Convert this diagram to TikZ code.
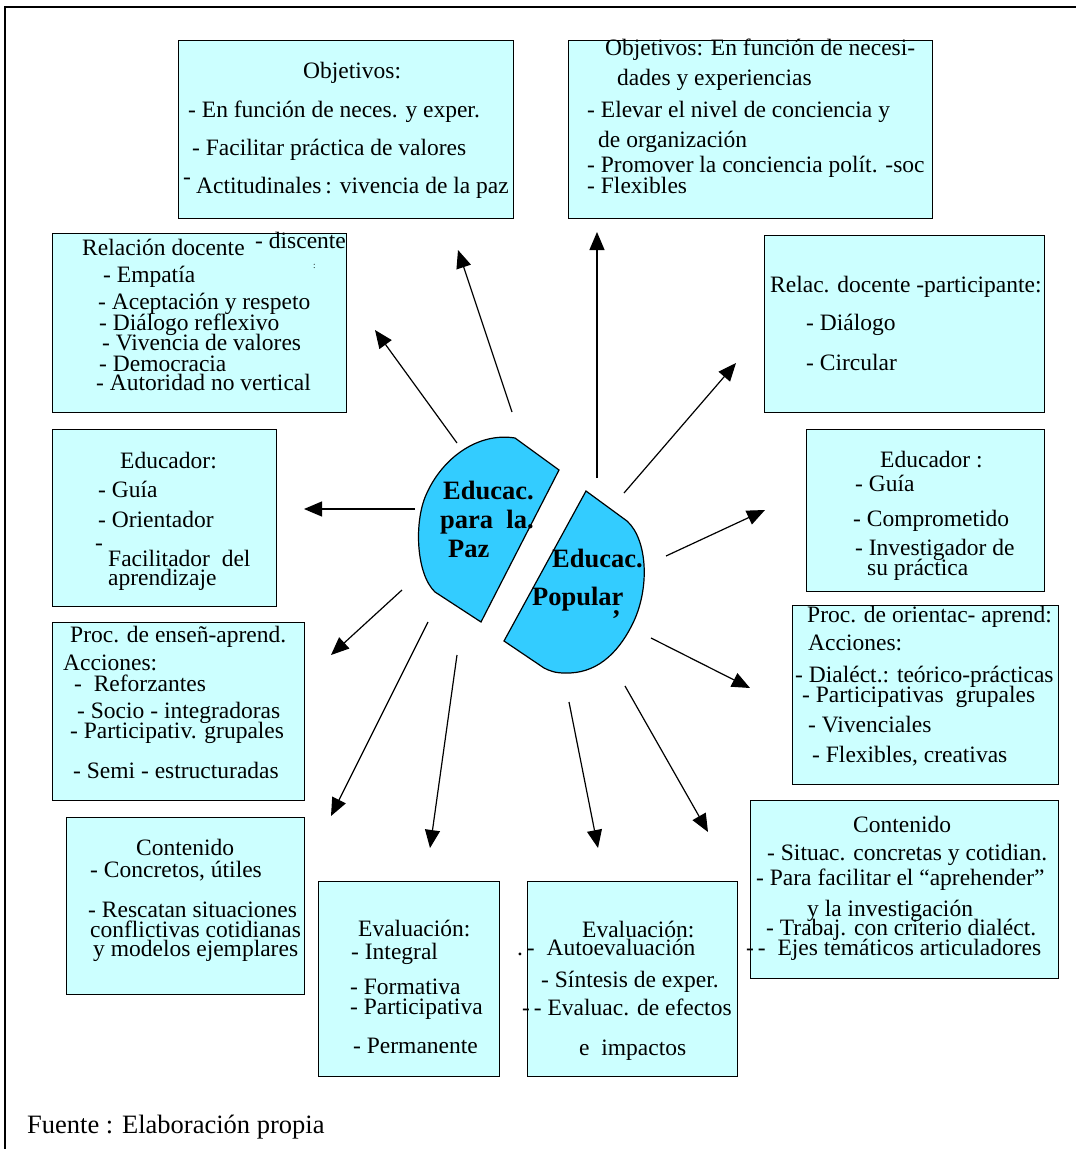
\documentclass[tikz,border=0pt]{standalone}
\usepackage{fontspec}
\setmainfont{Liberation Serif}
\usetikzlibrary{arrows.meta}
\definecolor{boxfill}{HTML}{CCFFFF}
\definecolor{blobfill}{HTML}{33CCFF}
\begin{document}
\begin{tikzpicture}[x=1pt,y=-1pt,
  box/.style={draw=black, line width=1.2pt, fill=boxfill, inner sep=0pt, anchor=north west},
  tx/.style={anchor=base west, inner sep=0pt, font=\fontsize{23.5}{24}\selectfont},
  bt/.style={anchor=base west, inner sep=0pt, font=\fontsize{26.5}{27}\selectfont\bfseries},
  arr/.style={line width=1.2pt, -{Triangle[length=18pt,width=15pt]}},
  blob/.style={draw=black, line width=1.2pt, fill=blobfill}]
\useasboundingbox (0,0) rectangle (1076,1149);
% frame
\coordinate (fTL) at (5,7);
\coordinate (fTR) at (1076,7);
\coordinate (fBL) at (5,1149);
\draw[line width=1.5pt] (fBL) -- (fTL) -- (fTR);

% boxes
\node[box, minimum width=335pt, minimum height=178pt] (objL) at (178,40) {};
\node[box, minimum width=364pt, minimum height=178pt] (objR) at (568,40) {};
\node[box, minimum width=294pt, minimum height=179pt] (relL) at (52,233) {};
\node[box, minimum width=280pt, minimum height=177pt] (relR) at (764,235) {};
\node[box, minimum width=224pt, minimum height=177pt] (eduL) at (52,429) {};
\node[box, minimum width=238pt, minimum height=162pt] (eduR) at (806,429) {};
\node[box, minimum width=252pt, minimum height=178pt] (procL) at (52,622) {};
\node[box, minimum width=266pt, minimum height=179pt] (procR) at (792,605) {};
\node[box, minimum width=238pt, minimum height=177pt] (contL) at (66,817) {};
\node[box, minimum width=181pt, minimum height=195pt] (evalL) at (318,881) {};
\node[box, minimum width=210pt, minimum height=195pt] (evalR) at (527,881) {};
\node[box, minimum width=308pt, minimum height=178pt] (contR) at (750,800) {};

% Objetivos left
\node[tx] (oL1) at (303,78) {Objetivos:};
\node[tx] (oL2) at (188,117) {- En función de neces. y exper.};
\node[tx] (oL3) at (192,155) {- Facilitar práctica de valores};
\node[tx] (oL4) at (183,184) {-};
\node[tx] (oL5) at (196,193) {Actitudinales\,: vivencia de la paz};

% Objetivos right
\node[tx] (oR1) at (605,55) {Objetivos: En función de necesi-};
\node[tx] (oR2) at (617,85) {dades y experiencias};
\node[tx] (oR3) at (587,117) {- Elevar el nivel de conciencia y};
\node[tx] (oR4) at (598,147) {de organización};
\node[tx] (oR5) at (587,172) {- Promover la conciencia polít. -soc};
\node[tx] (oR6) at (587,193) {- Flexibles};

% Relacion left
\node[tx] (rL1) at (82,255) {Relación docente};
\node[tx] (rL2) at (255,248) {- discente};
\node[anchor=base west, inner sep=0pt, font=\fontsize{9}{9}\selectfont] (rL3) at (313,268) {:};
\node[tx] (rL4) at (103,282) {- Empatía};
\node[tx] (rL5) at (98,309) {- Aceptación y respeto};
\node[tx] (rL6) at (99,330) {- Diálogo reflexivo};
\node[tx] (rL7) at (102,350) {- Vivencia de valores};
\node[tx] (rL8) at (99,371) {- Democracia};
\node[tx] (rL9) at (96,390) {- Autoridad no vertical};

% Relacion right
\node[tx] (rR1) at (770,292) {Relac. docente -participante:};
\node[tx] (rR2) at (806,330) {- Diálogo};
\node[tx] (rR3) at (806,370) {- Circular};

% Educador left
\node[tx] (eL1) at (120,468) {Educador:};
\node[tx] (eL2) at (98,497) {- Guía};
\node[tx] (eL3) at (98,527) {- Orientador};
\node[tx] (eL4) at (95,550) {-};
\node[tx] (eL5) at (108,566) {Facilitador\ \ del};
\node[tx] (eL6) at (108,585) {aprendizaje};

% Educador right
\node[tx] (eR1) at (880,467) {Educador :};
\node[tx] (eR2) at (855,491) {- Guía};
\node[tx] (eR3) at (853,526) {- Comprometido};
\node[tx] (eR4) at (855,555) {- Investigador de};
\node[tx] (eR5) at (867,575) {su práctica};

% Proc left
\node[tx] (pL1) at (70,642) {Proc. de enseñ-aprend.};
\node[tx] (pL2) at (63,670) {Acciones:};
\node[tx] (pL3) at (74,691) {-\ \ Reforzantes};
\node[tx] (pL4) at (77,718) {- Socio - integradoras};
\node[tx] (pL5) at (70,738) {- Participativ. grupales};
\node[tx] (pL6) at (73,778) {- Semi - estructuradas};

% Proc right
\node[tx] (pR1) at (807,622) {Proc. de orientac- aprend:};
\node[tx] (pR2) at (808,650) {Acciones:};
\node[tx] (pR3) at (795,682) {- Dialéct.: teórico-prácticas};
\node[tx] (pR4) at (802,702) {- Participativas\ \ grupales};
\node[tx] (pR5) at (808,732) {- Vivenciales};
\node[tx] (pR6) at (812,762) {- Flexibles, creativas};

% Contenido left
\node[tx] (cL1) at (136,855) {Contenido};
\node[tx] (cL2) at (90,877) {- Concretos, útiles};
\node[tx] (cL3) at (88,917) {- Rescatan situaciones};
\node[tx] (cL4) at (90,937) {conflictivas cotidianas};
\node[tx] (cL5) at (93,956) {y modelos ejemplares};

% Evaluacion left
\node[tx] (vL1) at (358,936) {Evaluación:};
\node[tx] (vL2) at (351,959) {- Integral};
\node[tx] (vL3) at (350,994) {- Formativa};
\node[tx] (vL4) at (350,1014) {- Participativa};
\node[tx] (vL5) at (353,1053) {- Permanente};

% Evaluacion right
\node[tx] (vR1) at (582,937) {Evaluación:};
\node[tx] (vR2) at (517,955) {.\,-\ \ Autoevaluación};
\node[tx] (vR3) at (541,987) {- Síntesis de exper.};
\node[tx] (vR4) at (522,1015) {-\,- Evaluac. de efectos};
\node[tx] (vR5) at (579,1055) {e\ \ impactos};

% Contenido right
\node[tx] (cR1) at (853,832) {Contenido};
\node[tx] (cR2) at (767,860) {- Situac. concretas y cotidian.};
\node[tx] (cR3) at (756,885) {- Para facilitar el “aprehender”};
\node[tx] (cR4) at (807,916) {y la investigación};
\node[tx] (cR5) at (766,935) {- Trabaj. con criterio dialéct.};
\node[tx] (cR6) at (746,955) {-\,-\ \ Ejes temáticos articuladores};

% central blobs
\path[blob] (559,470) -- (481,622) -- (435,592)
  .. controls (416,574) and (414,522) .. (426,495)
  .. controls (442,458) and (478,432) .. (515,438) -- cycle;
\path[blob] (586,491) -- (627,521)
  .. controls (648,540) and (650,590) .. (632,625)
  .. controls (617,655) and (595,674) .. (565,673)
  .. controls (555,673) and (550,671) .. (544,668) -- (504,641) -- cycle;

\node[bt] (pz1) at (443,499) {Educac.};
\node[bt] (pz2) at (440,528) {para\ \ la.};
\node[bt] (pz3) at (448,557) {Paz};
\node[bt] (pp1) at (552,567) {Educac.};
\node[bt] (pp2) at (532,605) {Popular};
\node[bt] (pp3) at (613,614) {,};

% arrows
\coordinate (s1) at (512,412); \coordinate (e1) at (458,250);
\coordinate (s2) at (597,478); \coordinate (e2) at (597,232);
\coordinate (s3) at (457,443); \coordinate (e3) at (375,330);
\coordinate (s4) at (624,493); \coordinate (e4) at (736,363);
\coordinate (s5) at (415,509); \coordinate (e5) at (304,509);
\coordinate (s6) at (666,556); \coordinate (e6) at (765,510);
\coordinate (s7) at (402,590); \coordinate (e7) at (331,655);
\coordinate (s8) at (651,638); \coordinate (e8) at (750,688);
\coordinate (s9) at (428,622); \coordinate (e9) at (331,816);
\coordinate (s10) at (457,655); \coordinate (e10) at (430,848);
\coordinate (s11) at (569,702); \coordinate (e11) at (598,848);
\coordinate (s12) at (625,686); \coordinate (e12) at (708,832);
\foreach \i in {1,...,12} {\draw[arr] (s\i) -- (e\i);}

% footer
\node[anchor=base west, inner sep=0pt, font=\fontsize{26.5}{27}\selectfont] (src) at (27,1133) {Fuente : Elaboración propia};
\end{tikzpicture}
\end{document}
